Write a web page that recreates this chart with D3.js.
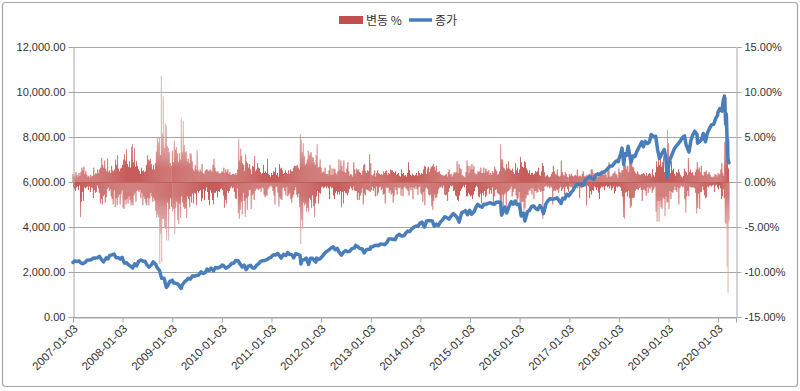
<!DOCTYPE html>
<html><head><meta charset="utf-8">
<script src="https://cdn.jsdelivr.net/npm/d3@7"></script>
<style>
body{margin:0;background:#fff}
text{font-family:"Liberation Sans",Arial,sans-serif;fill:#333}
</style>
</head><body>
<svg id="chart" width="800" height="391"></svg>
<script>
// ---------- DATA ----------
const legendLabels = ["변동 %", "종가"];
const leftTicks = [0, 2000, 4000, 6000, 8000, 10000, 12000];
const rightTicks = [-15, -10, -5, 0, 5, 10, 15];
const xTickYears = [2007,2008,2009,2010,2011,2012,2013,2014,2015,2016,2017,2018,2019,2020];

// closing price (종가), approx. semi-monthly readings
const close2007 = [["01-03",2423],["01-16",2497],["02-01",2468],["02-16",2496],["03-01",2404],["03-16",2372],["04-02",2422],["04-16",2518],["05-01",2531],["05-16",2547],["06-01",2613],["06-15",2626],["07-02",2632],["07-16",2697],["08-01",2553],["08-16",2451],["09-04",2630],["09-17",2581],["10-01",2740],["10-16",2763],["11-01",2794],["11-16",2637],["12-03",2637],["12-17",2574],["12-31",2652]];
const close2008 = [["01-02",2609],["01-16",2394],["02-01",2413],["02-15",2321],["03-03",2258],["03-17",2177],["04-01",2362],["04-15",2276],["05-01",2480],["05-16",2528],["06-02",2480],["06-16",2474],["07-01",2304],["07-15",2215],["08-01",2310],["08-15",2452],["09-02",2349],["09-15",2179],["10-01",2069],["10-16",1717],["11-03",1726],["11-20",1316],["12-01",1398],["12-16",1589],["12-31",1577]];
const close2009 = [["01-02",1632],["01-15",1511],["02-02",1494],["02-17",1441],["03-02",1322],["03-09",1268],["03-16",1405],["04-01",1551],["04-16",1626],["05-01",1719],["05-15",1680],["06-01",1828],["06-15",1816],["07-01",1845],["07-15",1862],["08-03",2008],["08-17",1930],["09-01",1968],["09-16",2133],["10-01",2057],["10-15",2173],["11-02",2050],["11-16",2197],["12-01",2175],["12-15",2201],["12-31",2269]];
const close2010 = [["01-04",2308],["01-15",2287],["02-01",2171],["02-16",2226],["03-01",2274],["03-16",2378],["04-01",2402],["04-15",2515],["05-03",2498],["05-17",2354],["06-01",2222],["06-15",2305],["07-01",2101],["07-15",2249],["08-02",2295],["08-16",2181],["09-01",2177],["09-15",2301],["10-01",2370],["10-15",2469],["11-01",2505],["11-15",2513],["12-01",2549],["12-15",2618],["12-31",2653]];
const close2011 = [["01-03",2691],["01-18",2765],["02-01",2751],["02-18",2833],["03-01",2737],["03-16",2617],["04-01",2789],["04-18",2735],["05-02",2864],["05-16",2783],["06-01",2769],["06-15",2631],["07-01",2816],["07-15",2789],["08-01",2745],["08-08",2358],["08-16",2523],["09-01",2546],["09-16",2622],["10-03",2335],["10-17",2614],["11-01",2606],["11-25",2441],["12-01",2626],["12-16",2555],["12-30",2605]];
const close2012 = [["01-03",2648],["01-17",2728],["02-01",2848],["02-15",2915],["03-01",2988],["03-15",3056],["04-02",3119],["04-16",2988],["05-01",3050],["05-16",2874],["06-01",2747],["06-15",2872],["07-02",2951],["07-16",2896],["08-01",2920],["08-15",3030],["09-04",3075],["09-14",3183],["10-01",3113],["10-15",3044],["11-01",3020],["11-15",2846],["12-03",3002],["12-17",3010],["12-31",3020]];
const close2013 = [["01-02",3112],["01-16",3118],["02-01",3179],["02-15",3192],["03-01",3169],["03-15",3249],["04-01",3239],["04-15",3216],["05-01",3299],["05-15",3471],["06-03",3465],["06-17",3453],["07-01",3434],["07-15",3607],["08-01",3675],["08-15",3602],["09-03",3612],["09-16",3717],["10-01",3817],["10-15",3794],["11-01",3922],["11-15",3985],["12-02",4045],["12-16",4029],["12-31",4177]];
const close2014 = [["01-02",4143],["01-15",4215],["02-03",3997],["02-18",4272],["03-03",4277],["03-17",4279],["04-01",4268],["04-15",4034],["05-01",4127],["05-15",4069],["06-02",4237],["06-16",4321],["07-01",4458],["07-15",4416],["08-01",4352],["08-15",4465],["09-02",4598],["09-15",4518],["10-01",4422],["10-15",4215],["11-03",4638],["11-17",4671],["12-01",4727],["12-16",4547],["12-31",4736]];
const close2015 = [["01-02",4726],["01-15",4570],["02-02",4676],["02-17",4899],["03-02",5008],["03-16",4929],["04-01",4880],["04-15",5011],["05-01",5005],["05-15",5048],["06-01",5082],["06-15",5029],["07-01",5013],["07-15",5098],["08-03",5115],["08-17",5091],["08-24",4526],["09-01",4636],["09-16",4889],["10-01",4627],["10-15",4870],["11-02",5127],["11-16",5011],["12-01",5156],["12-15",4995],["12-31",5007]];
const close2016 = [["01-04",4903],["01-15",4488],["02-01",4620],["02-11",4266],["03-01",4689],["03-15",4728],["04-01",4914],["04-15",4938],["05-02",4817],["05-16",4775],["06-01",4952],["06-15",4835],["06-27",4594],["07-15",5030],["08-01",5184],["08-15",5262],["09-01",5227],["09-15",5249],["10-03",5300],["10-17",5200],["11-04",5046],["11-15",5275],["12-01",5251],["12-15",5456],["12-30",5383]];
const close2017 = [["01-03",5429],["01-17",5538],["02-01",5642],["02-15",5819],["03-01",5904],["03-15",5900],["04-03",5895],["04-17",5856],["05-01",6091],["05-15",6149],["06-01",6246],["06-15",6166],["07-03",6110],["07-17",6314],["08-01",6362],["08-15",6333],["09-01",6435],["09-15",6448],["10-02",6516],["10-16",6624],["11-01",6716],["11-15",6706],["12-01",6847],["12-15",6936],["12-29",6903]];
const close2018 = [["01-02",7006],["01-16",7224],["01-26",7505],["02-08",6777],["02-15",7256],["03-01",7180],["03-12",7588],["04-02",6870],["04-16",7156],["05-01",7130],["05-15",7351],["06-01",7554],["06-20",7781],["07-02",7567],["07-16",7805],["08-01",7707],["08-15",7774],["08-29",8109],["09-14",8010],["10-01",8037],["10-15",7430],["10-29",7050],["11-15",7259],["12-03",7442],["12-14",7126],["12-24",6193],["12-31",6635]];
const close2019 = [["01-02",6665],["01-15",7024],["02-01",7264],["02-15",7472],["03-01",7596],["03-15",7688],["04-01",7828],["04-15",7976],["05-01",8050],["05-13",7647],["06-03",7333],["06-17",7845],["07-01",8091],["07-15",8258],["08-01",8111],["08-05",7726],["08-15",7767],["09-03",7874],["09-16",8154],["10-02",7786],["10-15",8149],["11-01",8386],["11-15",8540],["12-02",8567],["12-16",8814],["12-31",8972]];
const close2020 = [["01-02",9092],["01-15",9258],["01-31",9150],["02-10",9628],["02-19",9817],["02-28",8567],["03-04",9018],["03-09",7950],["03-12",7201],["03-13",7875],["03-16",6904],["03-18",6989],["03-20",6879],["03-23",6860]];

// daily change (변동 %), weekly readings [largest up, largest down]
const chg2007 = [[0.9,-0.6],[0.7,-0.8],[0.5,-1.0],[1.1,-0.6],[0.8,-0.5],[0.6,-0.9],[1.0,-0.4],[0.7,-3.9],[1.1,-2.2],[1.6,-1.1],[1.3,-2.1],[1.7,-0.6],[0.9,-0.7],[1.2,-0.6],[0.8,-0.5],[0.6,-0.9],[0.7,-0.5],[0.5,-1.1],[0.8,-0.6],[0.6,-0.7],[0.7,-1.8],[1.6,-0.9],[0.8,-1.2],[1.0,-1.1],[0.9,-0.4],[1.4,-0.7],[1.0,-1.2],[1.4,-2.4],[1.6,-1.9],[2.7,-2.5],[1.9,-1.6],[1.6,-1.4],[2.4,-2.3],[1.5,-1.7],[1.2,-0.8],[2.6,-0.6],[1.1,-1.0],[1.3,-0.8],[1.0,-1.6],[1.8,-1.9],[1.3,-2.5],[1.2,-0.9],[1.4,-2.8],[2.5,-1.8],[1.9,-2.6],[3.0,-1.7],[1.5,-1.4],[1.2,-2.5],[1.5,-1.3],[1.6,-0.9]];
const chg2008 = [[1.9,-2.9],[2.5,-3.0],[3.1,-2.0],[2.4,-2.5],[3.7,-1.9],[2.0,-2.4],[1.7,-1.6],[2.3,-2.0],[1.6,-2.6],[3.9,-2.3],[4.2,-2.6],[2.2,-1.5],[3.8,-1.2],[1.7,-2.2],[2.3,-1.0],[1.8,-0.9],[1.4,-1.1],[1.2,-0.9],[0.9,-1.8],[1.6,-1.2],[1.2,-2.6],[1.3,-1.6],[1.1,-1.9],[1.2,-2.4],[1.9,-2.6],[3.0,-1.8],[2.5,-2.6],[2.4,-1.8],[2.6,-1.2],[2.0,-1.6],[1.4,-2.2],[1.9,-1.8],[1.4,-2.1],[2.1,-3.2],[3.4,-4.0],[5.0,-3.6],[4.4,-3.9],[5.0,-9.1],[3.0,-5.8],[11.8,-8.9],[5.4,-4.1],[9.5,-4.1],[3.8,-5.0],[6.5,-5.2],[6.3,-6.5],[4.0,-2.3],[3.8,-6.5],[3.3,-3.0],[2.1,-1.8],[1.8,-2.8]];
const chg2009 = [[3.5,-3.3],[2.2,-3.0],[4.6,-5.8],[3.6,-2.9],[3.9,-2.2],[3.2,-4.2],[2.2,-4.7],[3.2,-2.4],[2.5,-4.0],[7.1,-1.6],[3.3,-2.3],[6.8,-2.8],[4.1,-3.0],[3.3,-2.9],[3.4,-4.0],[2.3,-1.6],[2.6,-1.9],[2.1,-2.8],[3.2,-1.6],[3.1,-2.3],[2.3,-1.3],[1.4,-2.4],[1.2,-1.2],[1.9,-1.3],[1.4,-2.6],[3.5,-1.0],[1.3,-1.2],[1.1,-1.0],[1.4,-0.9],[1.2,-2.1],[2.0,-1.8],[1.0,-0.8],[0.9,-2.0],[1.2,-1.0],[1.4,-0.6],[1.4,-1.1],[1.3,-2.0],[1.2,-2.6],[1.4,-0.9],[1.3,-1.2],[1.1,-2.0],[1.9,-2.5],[2.6,-1.2],[1.6,-1.2],[1.2,-1.0],[1.1,-1.7],[1.2,-1.0],[1.0,-1.1],[0.9,-0.8],[1.0,-0.7]];
const chg2010 = [[1.2,-0.9],[1.1,-1.5],[1.6,-2.9],[1.0,-2.0],[1.4,-2.4],[1.1,-1.0],[1.4,-1.2],[0.9,-1.0],[1.1,-0.7],[0.8,-0.5],[0.8,-0.7],[0.9,-0.6],[0.9,-1.1],[0.8,-1.8],[1.0,-1.9],[0.8,-0.7],[1.4,-3.5],[4.8,-4.1],[2.4,-3.1],[3.7,-2.2],[2.9,-3.6],[2.1,-1.2],[1.9,-2.1],[1.2,-3.9],[3.1,-1.8],[2.3,-3.1],[2.1,-1.6],[1.6,-0.9],[2.0,-0.9],[1.4,-3.0],[0.9,-1.5],[1.8,-1.3],[1.7,-2.0],[2.9,-1.0],[1.2,-0.8],[1.4,-0.7],[2.1,-0.9],[1.6,-0.8],[1.5,-0.7],[1.1,-1.1],[0.9,-0.6],[1.0,-0.7],[1.9,-1.4],[1.0,-1.7],[1.2,-1.5],[1.0,-1.5],[2.6,-0.8],[0.9,-0.6],[0.8,-0.5],[0.6,-0.4]];
const chg2011 = [[1.0,-0.6],[0.8,-1.0],[1.2,-1.5],[1.1,-2.5],[1.6,-0.6],[0.8,-0.5],[1.0,-1.2],[0.6,-2.7],[2.0,-1.7],[1.5,-1.9],[1.6,-2.0],[1.3,-0.7],[0.9,-0.6],[1.0,-1.0],[1.3,-1.5],[1.0,-0.6],[0.9,-1.6],[1.3,-1.4],[0.9,-1.2],[1.4,-1.9],[1.2,-2.3],[1.2,-1.7],[1.6,-1.4],[1.8,-0.9],[1.8,-0.6],[1.8,-1.4],[1.9,-1.7],[1.6,-1.3],[1.4,-2.8],[5.3,-6.9],[4.7,-4.2],[3.3,-5.2],[4.3,-2.3],[2.9,-2.6],[1.9,-2.4],[2.1,-3.3],[2.5,-2.9],[3.5,-3.3],[3.0,-1.8],[3.3,-2.0],[3.3,-2.9],[2.8,-1.5],[2.7,-2.7],[2.2,-3.9],[1.9,-2.4],[3.0,-1.6],[4.2,-1.0],[1.6,-2.4],[1.7,-1.2],[2.5,-1.3]];
const chg2012 = [[1.6,-0.6],[1.0,-0.5],[1.2,-0.7],[1.1,-0.6],[1.6,-0.5],[0.9,-0.7],[0.9,-0.5],[0.8,-0.7],[1.3,-1.9],[1.9,-0.5],[0.8,-0.7],[1.5,-0.6],[0.8,-1.5],[1.5,-1.9],[1.4,-1.2],[1.0,-1.0],[0.8,-1.4],[1.2,-1.1],[2.5,-1.4],[1.3,-1.0],[2.4,-2.8],[1.8,-1.1],[1.2,-2.4],[2.4,-1.0],[1.1,-1.2],[1.0,-1.3],[1.5,-1.5],[2.2,-1.2],[1.2,-0.8],[0.7,-0.5],[0.9,-0.7],[0.8,-0.9],[0.6,-0.5],[2.2,-0.9],[1.4,-1.0],[0.9,-1.0],[1.5,-2.0],[1.3,-1.2],[1.4,-2.0],[1.1,-1.5],[1.0,-1.2],[0.8,-0.7],[1.3,-2.5],[1.9,-1.3],[2.0,-1.5],[1.2,-0.8],[1.0,-0.9],[1.3,-0.9],[1.2,-1.0],[3.1,-1.1]];
const chg2013 = [[2.1,-0.9],[0.8,-0.5],[0.7,-1.0],[0.9,-0.7],[1.3,-1.6],[0.6,-0.5],[1.0,-1.5],[1.3,-1.2],[1.0,-0.6],[0.9,-0.5],[0.8,-0.9],[0.9,-0.7],[0.8,-1.4],[1.2,-1.3],[1.0,-2.4],[1.2,-0.6],[1.3,-0.7],[0.8,-0.6],[1.0,-1.2],[0.9,-0.9],[1.4,-1.4],[1.3,-1.2],[1.3,-2.3],[1.1,-1.5],[1.0,-0.6],[1.2,-0.9],[0.8,-1.4],[0.9,-0.6],[1.0,-0.7],[0.7,-0.6],[0.6,-1.5],[1.4,-0.8],[0.9,-1.6],[1.0,-0.6],[0.7,-0.5],[0.8,-0.7],[0.6,-0.8],[1.0,-1.0],[2.2,-1.5],[1.3,-0.6],[0.8,-0.9],[0.7,-0.6],[0.9,-1.9],[0.8,-0.6],[0.7,-0.8],[0.8,-0.5],[1.0,-0.8],[0.7,-1.4],[1.2,-0.6],[1.0,-0.5]];
const chg2014 = [[0.8,-1.2],[1.0,-1.4],[0.9,-2.2],[1.4,-1.1],[1.8,-2.6],[1.7,-0.7],[0.9,-0.6],[1.5,-0.8],[1.7,-1.4],[1.1,-1.5],[1.5,-1.4],[1.7,-2.7],[1.8,-3.1],[2.0,-2.1],[1.7,-1.4],[1.3,-1.8],[1.8,-1.7],[1.1,-1.3],[1.1,-0.8],[1.2,-0.6],[0.9,-0.6],[0.8,-0.5],[0.8,-0.7],[0.7,-0.4],[0.7,-1.4],[0.8,-1.5],[0.9,-1.4],[0.6,-2.1],[1.1,-1.1],[1.4,-0.7],[0.8,-0.4],[0.9,-0.5],[0.6,-0.4],[0.8,-1.0],[1.1,-0.9],[1.0,-1.5],[1.1,-1.6],[2.3,-2.0],[1.0,-2.1],[2.0,-1.5],[1.5,-1.0],[1.4,-0.8],[0.8,-0.6],[0.7,-0.4],[0.6,-0.6],[0.5,-0.3],[1.1,-1.6],[2.4,-1.6],[1.8,-1.2],[1.0,-1.4]];
const chg2015 = [[1.8,-1.6],[1.4,-1.5],[2.0,-1.9],[1.4,-1.4],[1.8,-1.0],[1.0,-0.6],[0.8,-0.4],[0.9,-0.6],[1.2,-1.6],[1.1,-1.7],[1.2,-1.3],[1.6,-2.4],[1.0,-1.2],[1.0,-1.5],[1.6,-1.0],[1.0,-1.7],[1.5,-1.5],[1.2,-0.8],[1.1,-0.7],[1.3,-1.3],[0.8,-0.9],[1.0,-1.3],[0.8,-0.6],[1.2,-2.4],[1.0,-1.6],[1.7,-0.9],[1.4,-0.8],[1.2,-1.2],[0.8,-1.3],[0.9,-1.4],[1.2,-3.5],[4.2,-3.8],[2.5,-1.4],[2.5,-3.0],[1.6,-1.4],[1.5,-1.2],[1.3,-3.0],[2.0,-1.1],[1.5,-1.0],[2.3,-0.9],[1.5,-0.8],[1.3,-0.5],[1.3,-1.6],[1.5,-1.1],[1.1,-0.8],[0.9,-0.7],[2.1,-1.5],[1.3,-2.2],[1.6,-1.8],[1.0,-1.1]];
const chg2016 = [[1.4,-3.0],[2.8,-3.4],[2.2,-2.2],[1.7,-2.2],[1.6,-3.2],[2.3,-2.9],[2.2,-1.8],[1.5,-1.4],[1.3,-1.5],[1.0,-0.9],[1.3,-1.0],[0.8,-0.7],[1.0,-1.4],[1.0,-0.7],[0.8,-1.9],[0.9,-1.0],[1.2,-1.0],[1.1,-1.2],[1.2,-1.1],[1.6,-0.7],[0.8,-0.9],[0.7,-1.1],[1.2,-1.0],[2.1,-4.1],[1.8,-1.0],[1.1,-0.5],[0.6,-0.5],[0.7,-0.4],[0.8,-0.6],[0.6,-0.5],[0.5,-0.7],[0.6,-0.5],[0.9,-0.6],[1.1,-2.5],[1.8,-1.0],[1.2,-0.9],[0.9,-1.0],[0.8,-0.8],[1.4,-0.9],[0.7,-1.2],[0.6,-0.7],[0.7,-0.5],[2.4,-1.0],[1.1,-0.8],[0.8,-0.6],[0.7,-1.4],[1.1,-0.6],[0.9,-0.5],[0.6,-0.8],[0.5,-1.1]];
const chg2017 = [[0.9,-0.5],[0.7,-0.6],[0.9,-0.5],[0.7,-0.9],[0.6,-0.3],[0.7,-0.4],[0.8,-0.5],[0.7,-0.6],[1.4,-0.7],[0.6,-0.5],[0.7,-1.8],[0.7,-0.6],[0.6,-0.7],[0.9,-0.6],[1.2,-0.5],[0.7,-0.4],[0.6,-0.5],[0.7,-2.6],[0.8,-0.4],[0.5,-0.5],[0.9,-1.8],[0.8,-1.0],[1.4,-1.4],[1.4,-0.9],[1.0,-1.0],[0.8,-0.5],[0.6,-0.6],[0.6,-0.9],[0.5,-0.6],[0.8,-1.2],[0.6,-1.9],[1.1,-0.7],[0.8,-0.5],[0.9,-0.6],[1.1,-0.5],[0.8,-0.9],[1.0,-0.5],[0.8,-0.4],[0.5,-0.6],[1.2,-0.5],[2.2,-0.7],[0.6,-0.4],[0.6,-0.9],[0.7,-0.7],[0.9,-0.5],[1.0,-1.3],[1.2,-1.0],[0.9,-0.5],[0.8,-0.6],[0.5,-0.5]];
const chg2018 = [[1.5,-0.5],[1.1,-0.6],[1.0,-1.0],[1.3,-1.6],[1.3,-3.9],[2.4,-4.1],[1.9,-1.2],[1.8,-1.1],[1.4,-1.6],[1.8,-1.0],[1.1,-1.8],[3.3,-2.9],[2.1,-2.7],[2.1,-1.8],[1.7,-1.8],[1.6,-1.7],[1.2,-1.0],[1.0,-0.8],[0.9,-0.8],[1.2,-0.9],[0.9,-0.7],[0.8,-0.6],[0.8,-0.9],[0.9,-2.1],[0.9,-0.9],[1.0,-0.8],[0.9,-1.0],[0.7,-1.5],[1.0,-0.6],[0.7,-1.2],[0.9,-0.6],[1.0,-0.8],[0.9,-0.5],[0.6,-1.2],[1.4,-0.9],[0.8,-0.7],[0.6,-0.5],[1.1,-3.3],[2.3,-4.4],[1.7,-2.1],[2.9,-4.4],[1.9,-2.1],[2.6,-2.8],[1.7,-3.0],[2.2,-1.7],[2.9,-1.9],[1.1,-3.8],[2.2,-1.6],[1.1,-2.3],[5.8,-2.2]];
const chg2019 = [[4.3,-3.0],[1.7,-1.0],[1.0,-1.9],[2.3,-1.1],[1.3,-1.2],[1.5,-0.9],[0.9,-0.5],[0.7,-0.9],[1.1,-1.1],[1.0,-0.6],[1.4,-2.5],[1.1,-0.7],[0.8,-0.5],[0.6,-0.4],[0.5,-0.6],[0.7,-0.5],[1.5,-1.9],[1.2,-3.4],[1.1,-1.6],[0.8,-1.0],[2.7,-1.6],[1.1,-0.5],[1.4,-0.6],[1.0,-0.6],[1.1,-0.6],[0.8,-0.6],[0.7,-0.7],[1.1,-1.2],[1.4,-3.5],[2.2,-2.9],[1.4,-1.3],[1.6,-3.0],[1.1,-1.1],[1.8,-1.1],[0.8,-0.5],[0.7,-0.9],[1.1,-1.5],[1.1,-1.8],[1.3,-1.7],[0.8,-0.5],[0.9,-0.6],[1.1,-0.4],[0.8,-0.4],[0.6,-0.5],[0.5,-0.4],[0.6,-0.3],[0.6,-1.1],[0.9,-0.4],[0.8,-0.3],[0.6,-0.6]];
const chg2020 = [[1.0,-0.8],[0.8,-0.4],[0.9,-0.7],[1.4,-1.9],[2.1,-1.6],[1.0,-0.8],[0.7,-1.8],[4.5,-4.6],[4.5,-4.7],[9.4,-9.4],[6.2,-12.3],[1.5,-4.4]];

const closeByYear = [[2007,close2007],[2008,close2008],[2009,close2009],[2010,close2010],[2011,close2011],[2012,close2012],[2013,close2013],[2014,close2014],[2015,close2015],[2016,close2016],[2017,close2017],[2018,close2018],[2019,close2019],[2020,close2020]];
const chgByYear = [[2007,chg2007],[2008,chg2008],[2009,chg2009],[2010,chg2010],[2011,chg2011],[2012,chg2012],[2013,chg2013],[2014,chg2014],[2015,chg2015],[2016,chg2016],[2017,chg2017],[2018,chg2018],[2019,chg2019],[2020,chg2020]];

// ---------- BUILD ----------
const parse = d3.utcParse("%Y-%m-%d");
const closeData = closeByYear.flatMap(([y, arr]) => arr.map(([md, v]) => ({date: parse(y + "-" + md), value: v})));
const chgData = chgByYear.flatMap(([y, arr]) => {
  const start = parse(y + "-01-03");
  const stepDays = arr.length >= 40 ? 365 / arr.length : 7;
  return arr.flatMap(([u, dn], i) => {
    const dUp = d3.utcHour.offset(start, Math.round(i * stepDays * 24));
    const dDn = d3.utcHour.offset(start, Math.round((i + 0.5) * stepDays * 24));
    return [{date: dUp, value: u}, {date: dDn, value: dn}];
  });
});

const W = 800, H = 391;
const plot = {left: 73, right: 736, top: 47, bottom: 317};
const svg = d3.select("#chart");

const x = d3.scaleUtc().domain([parse("2007-01-03"), parse("2020-05-14")]).range([plot.left, plot.right]);
const yL = d3.scaleLinear().domain([0, 12000]).range([plot.bottom, plot.top]);
const yR = d3.scaleLinear().domain([-15, 15]).range([plot.bottom, plot.top]);

// outer frame
svg.append("rect").attr("x", 2.5).attr("y", 2.5).attr("width", W - 5).attr("height", H - 7)
  .attr("rx", 3).attr("fill", "#fff").attr("stroke", "#a6a6a6").attr("stroke-width", 1.2);

// gridlines
svg.append("g").selectAll("line").data(leftTicks).join("line")
  .attr("x1", plot.left).attr("x2", plot.right)
  .attr("y1", d => Math.round(yL(d)) + 0.5).attr("y2", d => Math.round(yL(d)) + 0.5)
  .attr("stroke", "#a6a6a6").attr("stroke-width", 1);

// gradient for change bars
const defs = svg.append("defs");
const grad = defs.append("linearGradient").attr("id", "chgGrad")
  .attr("gradientUnits", "userSpaceOnUse")
  .attr("x1", 0).attr("x2", 0).attr("y1", yR(6)).attr("y2", yR(-6));
[[0, "#daa6a5"], [0.25, "#cd7471"], [0.37, "#bf4b48"], [0.63, "#bf4b48"], [0.75, "#cd7471"], [1, "#daa6a5"]]
  .forEach(([o, c]) => grad.append("stop").attr("offset", o).attr("stop-color", c));

// change bars
svg.append("g").selectAll("rect").data(chgData).join("rect")
  .attr("x", d => x(d.date) - 0.45)
  .attr("width", 0.9)
  .attr("y", d => d.value >= 0 ? yR(d.value) : yR(0))
  .attr("height", d => Math.abs(yR(d.value) - yR(0)))
  .attr("fill", "url(#chgGrad)");

// axes
const axisColor = "#a6a6a6";
const axisLeft = d3.axisLeft(yL).tickValues(leftTicks).tickSize(5).tickFormat(d3.format(",.2f"));
const gL = svg.append("g").attr("transform", `translate(${plot.left + 0.5},0)`).call(axisLeft);
const axisRight = d3.axisRight(yR).tickValues(rightTicks).tickSize(5).tickFormat(d => d.toFixed(2) + "%");
const gR = svg.append("g").attr("transform", `translate(${plot.right + 0.5},0)`).call(axisRight);
const axisBottom = d3.axisBottom(x).tickValues(xTickYears.map(y => parse(y + "-01-03"))).tickSize(5).tickFormat(d3.utcFormat("%Y-%m-%d"));
const gB = svg.append("g").attr("transform", `translate(0,${Math.round(plot.bottom) + 0.5})`).call(axisBottom);

[gL, gR, gB].forEach(g => {
  g.select(".domain").attr("stroke", axisColor);
  g.selectAll(".tick line").attr("stroke", axisColor);
  g.selectAll("text").attr("fill", "#333").style("font-size", "11px").style("font-family", '"Liberation Sans", Arial, sans-serif');
});
gL.selectAll("text").attr("x", -8);
gR.selectAll("text").attr("x", 8);
gB.selectAll("text")
  .attr("text-anchor", "end")
  .attr("dy", 0)
  .attr("y", 0)
  .attr("transform", "translate(5,12) rotate(-45)")
  .style("font-size", "11.5px");

// close line
const line = d3.line().x(d => x(d.date)).y(d => yL(d.value)).curve(d3.curveLinear);
svg.append("path").datum(closeData).attr("d", line)
  .attr("fill", "none").attr("stroke", "#4a7ebb").attr("stroke-width", 3.5)
  .attr("stroke-linejoin", "round").attr("stroke-linecap", "round");

// legend
const lg = svg.append("g").attr("transform", "translate(0,20)");
lg.append("rect").attr("x", 339).attr("y", -4).attr("width", 24).attr("height", 8).attr("fill", "#c0504d");
lg.append("text").attr("x", 366).attr("y", 4.5).text(legendLabels[0])
  .style("font-family", '"Noto Sans CJK KR", sans-serif').style("font-size", "12px").attr("fill", "#333");
lg.append("line").attr("x1", 409).attr("x2", 432).attr("y1", 0).attr("y2", 0)
  .attr("stroke", "#4a7ebb").attr("stroke-width", 3.5);
lg.append("text").attr("x", 435).attr("y", 4.5).text(legendLabels[1])
  .style("font-family", '"Noto Sans CJK KR", sans-serif').style("font-size", "12px").attr("fill", "#333");
</script>
</body></html>
